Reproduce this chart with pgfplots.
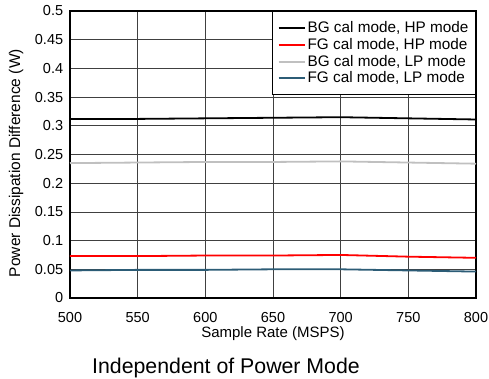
\documentclass[border=0pt]{standalone}
\usepackage{fontspec}
\setmainfont{Liberation Sans}
\usepackage{pgfplots}
\pgfplotsset{compat=1.18}
\definecolor{lpblue}{RGB}{44,92,118}
\definecolor{lpgray}{RGB}{192,192,192}
\begin{document}
\fontsize{14bp}{16bp}\selectfont
\begin{tikzpicture}
\useasboundingbox (-70bp,-81bp) rectangle (419bp,298bp);
\begin{axis}[
  at={(0,0)}, anchor=south west,
  scale only axis, width=406bp, height=287bp,
  xmin=500, xmax=800, ymin=0, ymax=0.5,
  xtick={500,550,600,650,700,750,800},
  ytick={0,0.05,0.1,0.15,0.2,0.25,0.3,0.35,0.4,0.45,0.5},
  yticklabels={0,0.05,0.1,0.15,0.2,0.25,0.3,0.35,0.4,0.45,0.5},
  /pgf/number format/assume math mode=true,
  xticklabel style={font=\fontsize{14.5bp}{16bp}\selectfont, anchor=base, yshift=-24bp},
  yticklabel style={font=\fontsize{14.5bp}{16bp}\selectfont, xshift=-2bp},
  major tick length=0pt,
  grid=major,
  major grid style={black!75, line width=0.7bp},
  axis line style={line width=1.8bp},
  xlabel={Sample Rate (MSPS)},
  ylabel={Power Dissipation Difference (W)},
  xlabel style={font=\fontsize{15bp}{16bp}\selectfont, at={(axis description cs:0.5,0)}, anchor=base, yshift=-39bp},
  ylabel style={font=\fontsize{15.5bp}{16bp}\selectfont, at={(axis description cs:-0.133,0.47)}, anchor=center},
  legend style={at={(1,1)}, anchor=north east, draw=black, line width=1.3bp,
    font=\fontsize{15.3bp}{16bp}\selectfont, cells={anchor=west}, row sep=-0.5bp,
    inner xsep=5bp, inner ysep=8bp},
  legend image code/.code={\draw[#1] (0bp,0bp) -- (26bp,0bp);},
  legend image post style={line width=2bp},
]
\addplot[black, line width=1.8bp] coordinates {(500,0.312) (550,0.312) (600,0.313) (650,0.314) (700,0.315) (750,0.313) (800,0.311)};
\addlegendentry{BG cal mode, HP mode}
\addplot[red, line width=1.8bp] coordinates {(500,0.073) (550,0.073) (600,0.074) (650,0.074) (700,0.075) (750,0.072) (800,0.070)};
\addlegendentry{FG cal mode, HP mode}
\addplot[lpgray, line width=1.8bp] coordinates {(500,0.235) (550,0.236) (600,0.237) (650,0.237) (700,0.238) (750,0.236) (800,0.234)};
\addlegendentry{BG cal mode, LP mode}
\addplot[lpblue, line width=1.8bp] coordinates {(500,0.048) (550,0.049) (600,0.049) (650,0.050) (700,0.050) (750,0.048) (800,0.046)};
\addlegendentry{FG cal mode, LP mode}
\end{axis}
\node[font=\fontsize{21.3bp}{22bp}\selectfont, anchor=base] at (156bp,-75bp) {Independent of Power Mode};
\end{tikzpicture}
\end{document}
